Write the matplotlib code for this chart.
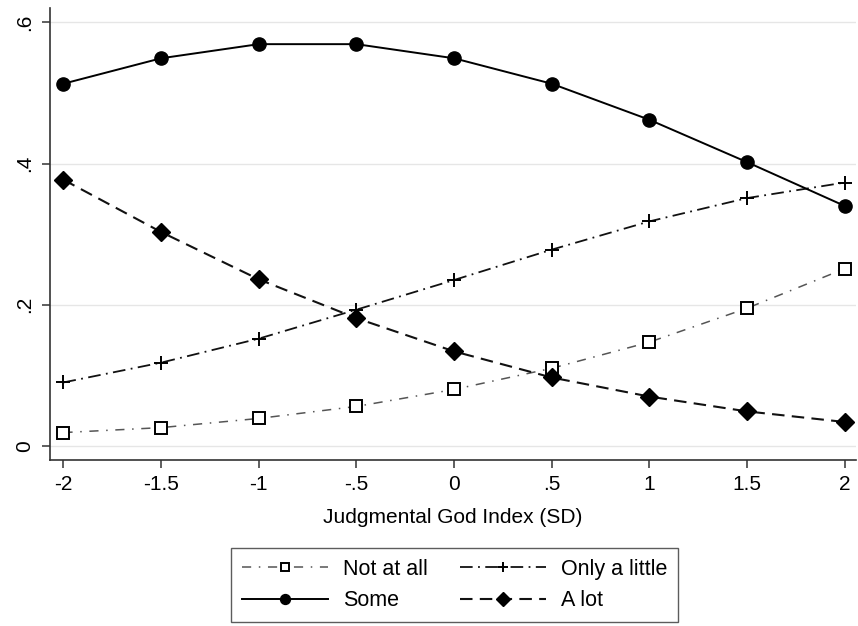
import matplotlib
matplotlib.use('Agg')
from matplotlib import pyplot as plt

# data
x_values = [-2, -1.5, -1, -0.5, 0, 0.5, 1, 1.5, 2]
x_labels = ['-2', '-1.5', '-1', '-.5', '0', '.5', '1', '1.5', '2']
y_ticks = [0, 0.2, 0.4, 0.6]
y_labels = ['0', '.2', '.4', '.6']

not_at_all = [0.019, 0.026, 0.039, 0.056, 0.080, 0.110, 0.147, 0.195, 0.251]
only_a_little = [0.090, 0.118, 0.152, 0.193, 0.235, 0.278, 0.318, 0.351, 0.373]
some = [0.513, 0.549, 0.569, 0.569, 0.549, 0.513, 0.462, 0.402, 0.340]
a_lot = [0.377, 0.303, 0.236, 0.181, 0.134, 0.097, 0.070, 0.049, 0.034]

plt.rcParams['font.family'] = ['Liberation Sans', 'DejaVu Sans']

fig = plt.figure(figsize=(8.58, 6.26), dpi=100)
ax = fig.add_axes([0.058, 0.265, 0.94, 0.722])

# grid lines first so the series sit above them
for yt in y_ticks:
    ax.axhline(yt, color='#e6e6e6', linewidth=1.0, zorder=0)

ax.plot(x_values, not_at_all, color='#555555', linewidth=1.1,
        linestyle=(0, (6, 5, 1, 5)), marker='s', markersize=8,
        markerfacecolor='white', markeredgecolor='black', markeredgewidth=1.4,
        label='Not at all')
ax.plot(x_values, only_a_little, color='#111111', linewidth=1.3,
        linestyle=(0, (7, 3, 1, 3)), marker='+', markersize=10,
        markeredgecolor='black', markeredgewidth=1.4, label='Only a little')
ax.plot(x_values, some, color='black', linewidth=1.4, linestyle='-',
        marker='o', markersize=9.5, label='Some')
ax.plot(x_values, a_lot, color='#111111', linewidth=1.5,
        linestyle=(0, (6, 3.5)), marker='D', markersize=9,
        markeredgecolor='black', markerfacecolor='black', label='A lot')

ax.set_xlim(-2.07, 2.06)
ax.set_ylim(-0.02, 0.62)
ax.set_xticks(x_values)
ax.set_xticklabels(x_labels, fontsize=15)
ax.set_yticks(y_ticks)
ax.set_yticklabels(y_labels, fontsize=15, rotation=90, va='center')

for side in ['top', 'right']:
    ax.spines[side].set_visible(False)
for side in ['left', 'bottom']:
    ax.spines[side].set_color('#333333')
    ax.spines[side].set_linewidth(1.2)
ax.tick_params(direction='out', length=6, width=1.1, color='#333333', pad=5)

ax.set_xlabel('Judgmental God Index (SD)', fontsize=15, labelpad=10)

# legend fills column by column: Not at all / Some, then Only a little / A lot
handles, labels = ax.get_legend_handles_labels()
order = [0, 2, 1, 3]
leg = fig.legend([handles[i] for i in order], [labels[i] for i in order],
                 loc='center', bbox_to_anchor=(0.530, 0.0655), ncol=2,
                 fontsize=15.5, frameon=True, fancybox=False, edgecolor='#333333',
                 handlelength=4.0, columnspacing=1.5, borderpad=0.5,
                 labelspacing=0.5, handletextpad=0.7, markerscale=0.75,
                 borderaxespad=0)
leg.get_frame().set_linewidth(1.0)

plt.savefig('out.png', dpi=100)
